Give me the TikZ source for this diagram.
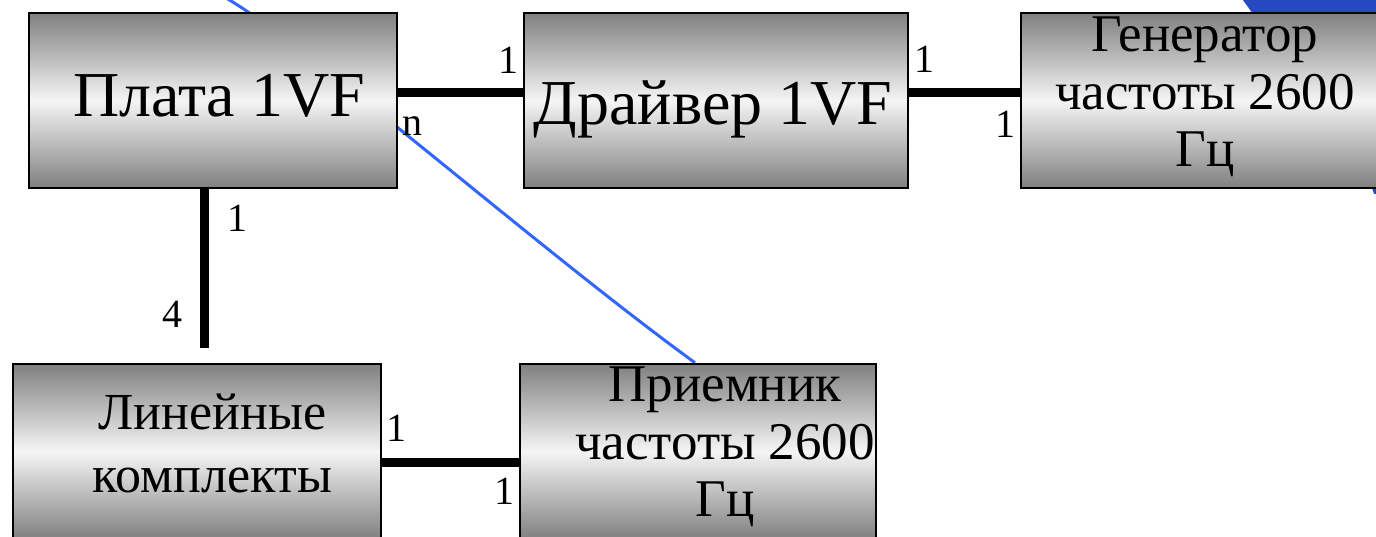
\documentclass[tikz,border=0pt]{standalone}
\usepackage{fontspec}
\setmainfont{Liberation Serif}
\definecolor{wireblue}{RGB}{51,102,255}
\definecolor{deepblue}{RGB}{38,72,192}
\pgfdeclarelayer{background}
\pgfsetlayers{background,main}
\tikzset{
  block/.style={draw=black, line width=2.5pt, inner sep=0pt, minimum height=175pt,
    top color=black!50, bottom color=black!50, middle color=black!4},
  bigtext/.style={anchor=south, align=center, inner sep=0pt, text depth=0pt, font=\fontsize{64}{70}\selectfont},
  midtext/.style={anchor=south, align=center, inner sep=0pt, text depth=0pt, font=\fontsize{53}{57.5}\selectfont},
  link/.style={line width=9pt},
  num/.style={inner sep=0pt, font=\fontsize{40}{44}\selectfont},
}
\begin{document}
\begin{tikzpicture}[x=1pt, y=-1pt]
\useasboundingbox (0,0) rectangle (1376,537);
\clip (0,0) rectangle (1376,537);
% boxes
\node[block, minimum width=368pt] (plata) at (213,100.5) {};
\node[block, minimum width=384pt] (driver) at (716,100.5) {};
\node[block, minimum width=380pt] (gen) at (1211,100.5) {};
\node[block, minimum width=368pt] (lin) at (197,451.5) {};
\node[block, minimum width=356pt] (priem) at (698,451.5) {};
% box texts (placed on last baseline)
\node[bigtext] (plataTxt) at (219,117) {Плата 1VF};
\node[bigtext] (driverTxt) at (713,125) {Драйвер 1VF};
\node[midtext] (genTxt) at (1205,167) {Генератор\\частоты 2600\\Гц};
\node[midtext, font=\fontsize{52}{63}\selectfont] (linTxt) at (212.5,493) {Линейные\\комплекты};
\node[midtext] (priemTxt) at (725,517) {Приемник\\частоты 2600\\Гц};
% blue pieces behind the boxes
\coordinate (wireStart) at (226,-2);
\begin{pgfonlayer}{background}
\fill[deepblue] (1240,-4) -- (1253,14) -- (1372,188) -- (1374,194) -- (1380,194) -- (1400,-4) -- cycle;
\draw[wireblue, line width=3pt] (wireStart) .. controls (300,40) and (540,250) .. ([xshift=-3pt]priem.north);
\end{pgfonlayer}
% links
\coordinate (linTop) at (204,348);
\draw[link] ([yshift=7.5pt]plata.east) -- ([yshift=7.5pt]driver.west);
\draw[link] ([yshift=7.5pt]driver.east) -- ([yshift=7.5pt]gen.west);
\draw[link] ([xshift=-9pt]plata.south) -- (linTop);
\draw[link] ([yshift=-10.5pt]lin.east) -- ([yshift=-10.5pt]priem.west);
% multiplicities
\node[num] (mulA) at (508,60) {1};
\node[num] (mulB) at (412,126) {n};
\node[num] (mulC) at (924,59) {1};
\node[num] (mulD) at (1005,124) {1};
\node[num] (mulE) at (237,218) {1};
\node[num] (mulF) at (172,314) {4};
\node[num] (mulG) at (396,428) {1};
\node[num] (mulH) at (504,491) {1};
\end{tikzpicture}
\end{document}
